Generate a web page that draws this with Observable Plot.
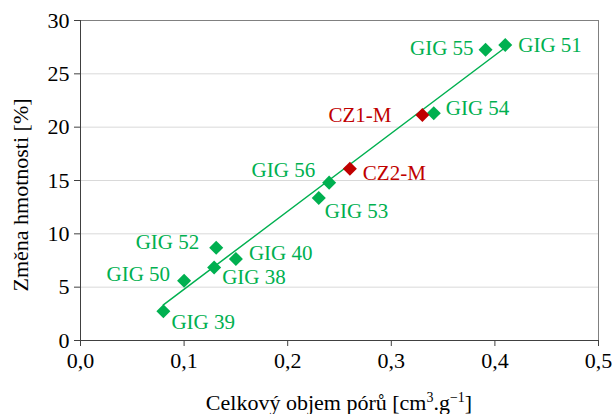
<!DOCTYPE html>
<html><head><meta charset="utf-8">
<script src="https://cdn.jsdelivr.net/npm/d3@7"></script>
<script src="https://cdn.jsdelivr.net/npm/@observablehq/plot@0.6"></script>
<style>
body{margin:0;background:#fff}
svg, svg text, svg g{font-family:"Liberation Serif","Times New Roman",serif !important}
</style></head>
<body><div id="chart"></div>
<script>
const names = ["GIG 39","GIG 50","GIG 38","GIG 52","GIG 40","GIG 53","GIG 56","GIG 54","GIG 55","GIG 51","CZ1-M","CZ2-M"];
const poreVolume = [0.080,0.100,0.129,0.131,0.150,0.230,0.240,0.341,0.391,0.410,0.330,0.260];
const massChange = [2.75,5.6,6.85,8.7,7.65,13.35,14.8,21.3,27.25,27.7,21.15,16.1];
const groups = ["GIG","GIG","GIG","GIG","GIG","GIG","GIG","GIG","GIG","GIG","CZ","CZ"];
const xTicks = [0,0.1,0.2,0.3,0.4,0.5];
const yTicks = [0,5,10,15,20,25,30];

const data = names.map((n,i)=>({name:n,x:poreVolume[i],y:massChange[i],g:groups[i]}));
const green = "#00b050", red = "#c00000";
// label offsets (style only)
const place = {
  "GIG 51":[13,0,"start"],"GIG 55":[-12,-2,"end"],"GIG 54":[12,-5,"start"],
  "CZ1-M":[-31,0,"end"],"CZ2-M":[13,4,"start"],"GIG 56":[-14,-12,"end"],
  "GIG 53":[6,13,"start"],"GIG 52":[-17,-5,"end"],"GIG 40":[13,-6,"start"],
  "GIG 38":[8,10,"start"],"GIG 50":[-14,-7,"end"],"GIG 39":[8,11,"start"]
};
const labelMarks = data.map(d=>Plot.text([d],{x:"x",y:"y",text:"name",
  dx:place[d.name][0],dy:place[d.name][1],textAnchor:place[d.name][2],
  fill:d.g==="CZ"?red:green,fontSize:21}));

const fmt = d=>d.toFixed(1).replace(".",",");
const chart = Plot.plot({
  width:612,height:414,
  marginLeft:80,marginRight:14,marginTop:20,marginBottom:74,
  style:{fontFamily:"'Liberation Serif', serif",fontSize:"22px",color:"#000",background:"#fff"},
  x:{domain:[0,0.5],ticks:xTicks,tickFormat:fmt,label:null,tickSize:6,tickPadding:5},
  y:{domain:[0,30],ticks:yTicks,label:null,tickSize:6,tickPadding:5},
  marks:[
    Plot.gridY(yTicks,{stroke:"#d9d9d9",strokeOpacity:1}),
    Plot.frame({stroke:"#808080"}),
    Plot.ruleX([0],{stroke:"#404040"}),
    Plot.ruleY([0],{stroke:"#404040"}),
    Plot.axisX({ticks:xTicks,tickFormat:fmt,tickSize:6,tickPadding:6,stroke:"#404040",fontSize:22,label:null}),
    Plot.axisY({ticks:yTicks,tickSize:6,tickPadding:5,stroke:"#404040",fontSize:22,label:null}),
    Plot.linearRegressionY(data.filter(d=>d.g==="GIG"),{x:"x",y:"y",stroke:green,strokeWidth:1.5,ci:0}),
    Plot.dot(data,{x:"x",y:"y",symbol:"square",rotate:45,r:5.6,fill:d=>d.g==="CZ"?red:green,stroke:"none"}),
    ...labelMarks
  ]
});
chart.setAttribute("font-family","Liberation Serif, serif");
document.getElementById("chart").appendChild(chart);
const svg = d3.select(chart);
const xt = svg.append("text").attr("x",339).attr("y",410).attr("text-anchor","middle")
  .attr("font-size",22).attr("fill","#000");
xt.append("tspan").text("Celkový objem pórů [cm");
xt.append("tspan").text("3").attr("font-size",14).attr("dy",-8);
xt.append("tspan").text(".g").attr("dy",8);
xt.append("tspan").text("−1").attr("font-size",14).attr("dy",-8);
xt.append("tspan").text("]").attr("dy",8);
svg.append("text").attr("transform","translate(28,195) rotate(-90)").attr("text-anchor","middle")
  .attr("font-size",22).attr("fill","#000").text("Změna hmotnosti [%]");
</script></body></html>
